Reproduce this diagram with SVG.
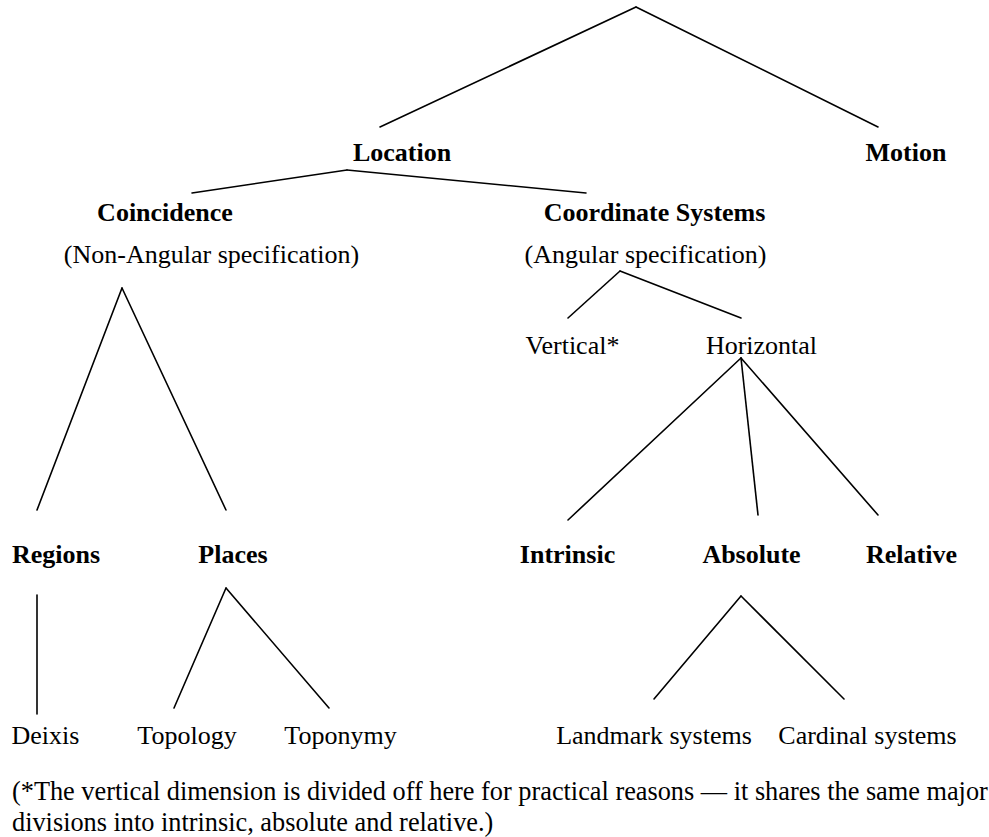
<svg xmlns="http://www.w3.org/2000/svg" width="989" height="837" viewBox="0 0 989 837">
<style>
text { font-family: "Liberation Serif", "Times New Roman", serif; font-size: 26px; fill: #000; }
.b { font-weight: bold; }
.m { text-anchor: middle; }
.f { font-size: 26.3px; }
.c line { stroke: #000; stroke-width: 1.6; stroke-linecap: round; }
</style>
<rect width="989" height="837" fill="#fff"/>
<g id="connectors" class="c">
  <line x1="636" y1="7" x2="380" y2="127"/>
  <line x1="636" y1="7" x2="878" y2="127"/>
  <line x1="347" y1="170" x2="192" y2="193"/>
  <line x1="347" y1="170" x2="586" y2="193"/>
  <line x1="122" y1="288" x2="37" y2="510"/>
  <line x1="122" y1="288" x2="226" y2="510"/>
  <line x1="620" y1="271" x2="568" y2="318"/>
  <line x1="620" y1="271" x2="741" y2="318"/>
  <line x1="741" y1="358" x2="568" y2="520"/>
  <line x1="741" y1="358" x2="758" y2="515"/>
  <line x1="741" y1="358" x2="878" y2="515"/>
  <line x1="37" y1="595" x2="37" y2="714"/>
  <line x1="226" y1="588" x2="174" y2="708"/>
  <line x1="226" y1="588" x2="329" y2="708"/>
  <line x1="741" y1="596" x2="654" y2="699"/>
  <line x1="741" y1="596" x2="844" y2="699"/>
</g>
<g id="location"><text class="b m" x="402" y="161">Location</text></g>
<g id="motion"><text class="b m" x="906" y="161">Motion</text></g>
<g id="coincidence">
  <text class="b m" x="165" y="221">Coincidence</text>
  <text class="m" x="211.5" y="263">(Non-Angular specification)</text>
</g>
<g id="coordinate-systems">
  <text class="b m" x="654.5" y="221">Coordinate Systems</text>
  <text class="m" x="645.5" y="263">(Angular specification)</text>
</g>
<g id="vertical"><text class="m" x="572.5" y="354">Vertical*</text></g>
<g id="horizontal"><text class="m" x="761.5" y="354">Horizontal</text></g>
<g id="regions"><text class="b m" x="56" y="563">Regions</text></g>
<g id="places"><text class="b m" x="233" y="563">Places</text></g>
<g id="intrinsic"><text class="b m" x="567.5" y="563">Intrinsic</text></g>
<g id="absolute"><text class="b m" x="751.5" y="563">Absolute</text></g>
<g id="relative"><text class="b m" x="911.5" y="563">Relative</text></g>
<g id="deixis"><text class="m" x="45.5" y="744">Deixis</text></g>
<g id="topology"><text class="m" x="187" y="744">Topology</text></g>
<g id="toponymy"><text class="m" x="340.5" y="744">Toponymy</text></g>
<g id="landmark"><text class="m" x="654" y="744">Landmark systems</text></g>
<g id="cardinal"><text class="m" x="867.5" y="744">Cardinal systems</text></g>
<g id="footnote">
  <text class="f" x="12" y="800">(*The vertical dimension is divided off here for practical reasons — it shares the same major</text>
  <text class="f" x="12" y="831">divisions into intrinsic, absolute and relative.)</text>
</g>
</svg>
